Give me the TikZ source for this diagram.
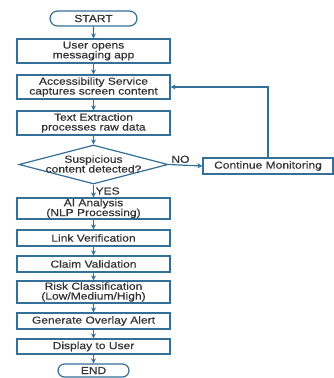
\documentclass[tikz,border=0pt]{standalone}
\usepackage{fontspec}
\setmainfont{Liberation Sans}[FakeStretch=1.18,FakeBold=0.4]
\usetikzlibrary{shapes.geometric,shapes.misc,arrows.meta}
\definecolor{fb}{HTML}{336F96}
\definecolor{ft}{HTML}{333333}
\begin{document}
\begin{tikzpicture}[x=1pt,y=-1pt,
  txt/.style={text=ft,font=\fontsize{10.2}{9.8}\selectfont,align=center,inner sep=0pt},
  box/.style={txt,draw=fb,line width=1.2pt,fill=white,minimum width=153pt},
  term/.style={box,rounded rectangle},
  dia/.style={draw=fb,line width=1.2pt,fill=white,diamond,inner sep=0pt,minimum width=149pt,minimum height=39pt},
  arr/.style={draw=fb,line width=1.2pt,-{Stealth[length=5pt,width=5pt]}},
  lbl/.style={txt,inner sep=1.5pt}
]
\useasboundingbox (0,0) rectangle (334,378);
\node[term,minimum width=87pt,minimum height=15pt] (start) at (93.5,18.5) {START};
\node[box,minimum height=24pt] (open) at (93.5,51) {User opens\\messaging app};
\node[box,minimum height=24pt] (acc) at (93.5,87) {Accessibility Service\\captures screen content};
\node[box,minimum height=24pt] (ext) at (93.5,123) {Text Extraction\\processes raw data};
\node[dia] (dec) at (93.5,164.5) {};
\node[txt] (dectxt) at (93.5,164) {Suspicious\\content detected?};
\node[box,minimum width=130pt,minimum height=16pt] (cont) at (268,166) {Continue Monitoring};
\node[box,minimum height=21pt] (ai) at (93.5,208.5) {AI Analysis\\(NLP Processing)};
\node[box,minimum height=16pt] (link) at (93.5,238) {Link Verification};
\node[box,minimum height=16pt] (claim) at (93.5,264) {Claim Validation};
\node[box,minimum height=22pt] (risk) at (93.5,292) {Risk Classification\\(Low/Medium/High)};
\node[box,minimum height=16pt] (gen) at (93.5,321) {Generate Overlay Alert};
\node[box,minimum height=15pt] (disp) at (93.5,346.5) {Display to User};
\node[term,minimum width=71pt,minimum height=13pt] (end) at (93.5,370.5) {END};

\draw[arr] (start) -- (open);
\draw[arr] (open) -- (acc);
\draw[arr] (acc) -- (ext);
\draw[arr] (ext) -- (dec);
\draw[arr] (dec.east) -- node[lbl,above,pos=0.35] {NO} (cont.west);
\draw[arr] (cont.north) |- (acc.east);
\draw[arr] (dec.south) -- node[lbl,right] {YES} (ai.north);
\draw[arr] (ai) -- (link);
\draw[arr] (link) -- (claim);
\draw[arr] (claim) -- (risk);
\draw[arr] (risk) -- (gen);
\draw[arr] (gen) -- (disp);
\draw[arr] (disp) -- (end);
\end{tikzpicture}
\end{document}
